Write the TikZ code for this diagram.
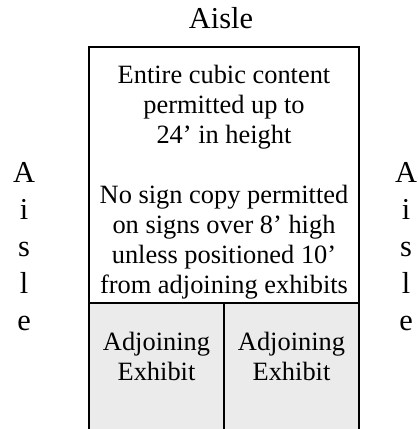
\documentclass[tikz,border=0pt]{standalone}
\usepackage{fontspec}
\setmainfont{Liberation Serif}
\begin{document}
\begin{tikzpicture}[x=1bp,y=-1bp,
  body/.style={inner sep=0pt, anchor=base, font=\fontsize{26.5}{30}\selectfont},
  big/.style={inner sep=0pt, anchor=base, font=\fontsize{30.5}{37}\selectfont},
  wall/.style={draw=black, line width=1.6bp},
  exhibit/.style={fill=black!8}]
\useasboundingbox (0,0) rectangle (418,429);
\begin{scope}
\clip (0,0) rectangle (418,429);
\fill[exhibit] (89,303) rectangle (359,440);
\draw[wall] (89,440) -- (89,47) -- (359,47) -- (359,440);
\draw[wall] (89,303) -- (359,303);
\draw[wall] (224,303) -- (224,440);
\end{scope}
\node[big] (title) at (221,28) {Aisle};
\foreach \t [count=\i] in {Entire cubic content, permitted up to, 24’ in height}
  \node[body] (ma\i) at (224,{83+30*(\i-1)}) {\t};
\foreach \t [count=\i] in {No sign copy permitted, on signs over 8’ high, unless positioned 10’, from adjoining exhibits}
  \node[body] (mb\i) at (224,{203+30*(\i-1)}) {\t};
\node[body] (exl1) at (156.5,350) {Adjoining};
\node[body] (exl2) at (156.5,380) {Exhibit};
\node[body] (exr1) at (291.5,350) {Adjoining};
\node[body] (exr2) at (291.5,380) {Exhibit};
\foreach \t [count=\i] in {A,i,s,l,e} {
  \node[big] (al\i) at (24,{182+37*(\i-1)}) {\t};
  \node[big] (ar\i) at (406,{182+37*(\i-1)}) {\t};
}
\end{tikzpicture}
\end{document}
